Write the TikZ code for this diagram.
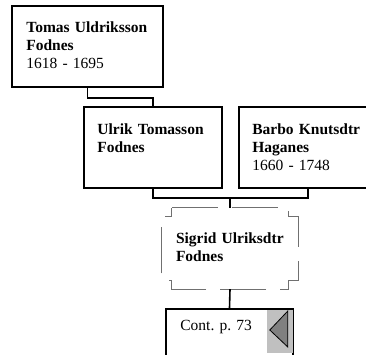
\documentclass[tikz,border=0pt]{standalone}
\usepackage{fontspec}
\setmainfont{Liberation Serif}
\usetikzlibrary{calc}
\frenchspacing

\definecolor{stubgrey}{HTML}{C0C0C0}
\definecolor{arrowgrey}{HTML}{808080}
\definecolor{dashgrey}{HTML}{707070}

\tikzset{
  personbox/.style={draw, line width=1.6pt, fill=white, inner sep=0pt,
    minimum height=81pt},
  nametext/.style={anchor=base west, inner sep=0pt, text width=135pt,
    align=left, font=\fontsize{15.5}{18}\selectfont},
  link/.style={line width=1.6pt},
}

\begin{document}
\begin{tikzpicture}[x=1pt, y=-1pt]
  \useasboundingbox[fill=white] (0,0) rectangle (366,355);
  \clip (0,0) rectangle (366,355);

  % ==========================================
  % 1. Farfar: Tomas
  % ==========================================
  \node[personbox, minimum width=151pt] (tomas) at (87.5,46.5) {};
  \node[nametext] (tomastxt) at ($(tomas.north west)+(15,27)$)
    {\textbf{Tomas Uldriksson}\\\textbf{Fodnes}\\1618 - 1695};

  % ==========================================
  % 2. Foreldre: Ulrik og Barbo
  % ==========================================
  \node[personbox, minimum width=138pt] (ulrik) at (153,147.5) {};
  \node[nametext] (ulriktxt) at ($(ulrik.north west)+(14,28)$)
    {\textbf{Ulrik Tomasson}\\\textbf{Fodnes}};

  \node[personbox, minimum width=138pt] (barbo) at (308,147.5) {};
  \node[nametext] (barbotxt) at ($(barbo.north west)+(14,28)$)
    {\textbf{Barbo Knutsdtr}\\\textbf{Haganes}\\1660 - 1748};

  % Linje Tomas -> Ulrik
  \draw[link] (tomas.south) -- ++(0,10) -| (ulrik.north);

  % ==========================================
  % 3. Barn: Sigrid (stiplet boks med hakk i hjornene)
  % ==========================================
  \node[inner sep=0pt, minimum width=136pt, minimum height=81pt] (sigrid) at (230,248.5) {};
  \draw[dashgrey, line width=0.9pt, dash pattern=on 46pt off 14pt]
    ($(sigrid.north west)+(10,0)$) -- ($(sigrid.north east)+(-10,0)$)
    -- ++(0,9) -- ++(10,0) -- ($(sigrid.south east)+(0,-9)$)
    -- ++(-10,0) -- ++(0,9) -- ($(sigrid.south west)+(10,0)$)
    -- ++(0,-9) -- ++(-10,0) -- ($(sigrid.north west)+(0,9)$)
    -- ++(10,0) -- cycle;
  \node[nametext] (sigridtxt) at ($(sigrid.north west)+(14,36)$)
    {\textbf{Sigrid Ulriksdtr}\\\textbf{Fodnes}};

  % Linjer foreldre -> Sigrid
  \coordinate (joint) at ($(ulrik.south)+(0,9)$);
  \draw[link] (ulrik.south) -- (joint) -| (barbo.south);
  \draw[link] (joint -| sigrid.north) -- (sigrid.north);

  % ==========================================
  % 4. Fortsettelse
  % ==========================================
  \node[personbox, minimum width=127pt, minimum height=50pt, anchor=north] (cont) at (229.5,308) {};
  \fill[stubgrey] ($(cont.north east)+(-27,2)$) rectangle ($(cont.north east)+(-1,45)$);
  \filldraw[fill=arrowgrey, draw=black, line width=0.8pt]
    ($(cont.north east)+(-24,22)$) -- ($(cont.north east)+(-6,3)$)
    -- ($(cont.north east)+(-6,39)$) -- cycle;
  \node[nametext, text width=80pt] (conttxt) at ($(cont.north west)+(15,22)$) {Cont. p. 73};

  % Linje Sigrid -> fortsettelse
  \draw[link] (sigrid.south) -- (cont.north);

\end{tikzpicture}
\end{document}
